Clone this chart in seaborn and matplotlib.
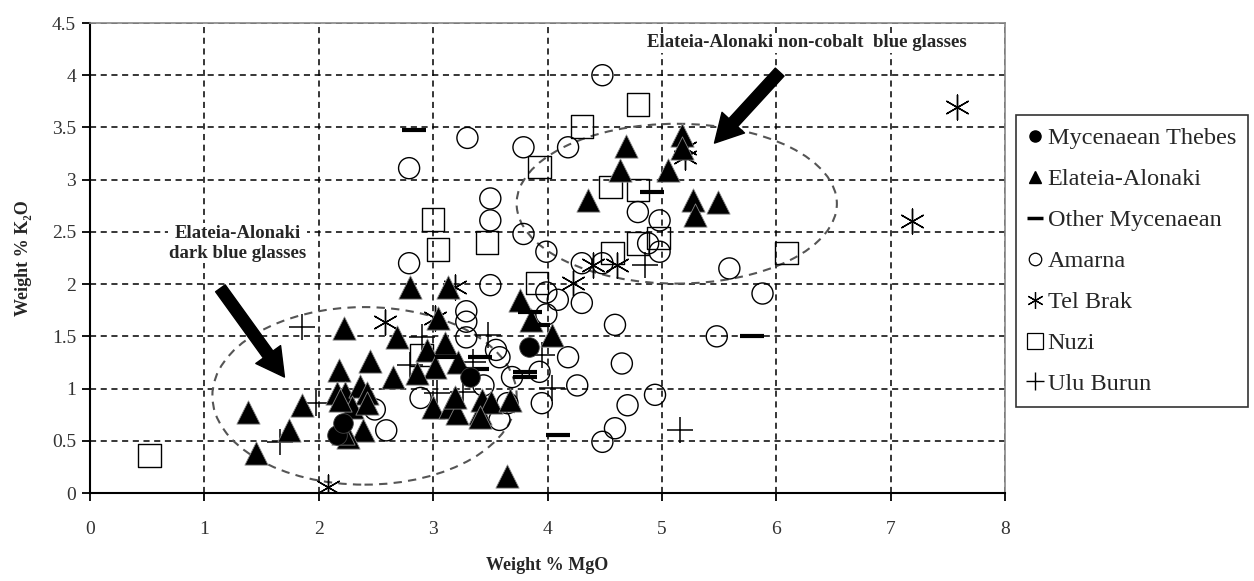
import matplotlib
matplotlib.use("Agg")
import matplotlib.pyplot as plt
import seaborn as sns
import numpy as np
from matplotlib.patches import Ellipse
from matplotlib.lines import Line2D

# ---------------- data ----------------
thebes_x = [2.16, 2.21, 3.84, 3.32]
thebes_y = [0.56, 0.67, 1.40, 1.11]

elateia_x = [2.80, 3.13, 2.22, 3.04, 2.68, 2.45, 2.18, 2.65, 3.10, 2.95, 3.02, 2.86, 3.22,
             1.38, 1.85, 1.74, 1.45, 2.16, 2.23, 2.36, 2.42, 2.29, 2.42, 2.19, 2.39, 2.26,
             2.21, 3.00, 3.15, 3.21, 3.41, 3.43, 3.19, 3.51, 3.41, 3.67, 3.76, 3.86, 4.04,
             3.65, 5.18, 5.18, 4.69, 4.63, 5.05, 4.35, 5.27, 5.49, 5.29]
elateia_y = [1.97, 1.97, 1.58, 1.68, 1.49, 1.26, 1.18, 1.11, 1.44, 1.37, 1.21, 1.15, 1.25,
             0.78, 0.84, 0.60, 0.38, 0.96, 0.96, 1.02, 0.96, 0.82, 0.86, 0.89, 0.60, 0.54,
             0.57, 0.82, 0.82, 0.77, 0.77, 0.89, 0.92, 0.87, 0.73, 0.89, 1.85, 1.66, 1.51,
             0.16, 3.43, 3.30, 3.32, 3.09, 3.09, 2.81, 2.81, 2.79, 2.66]

othermyc_x = [2.83, 4.91, 3.85, 3.92, 3.80, 3.80, 3.41, 3.38, 3.12, 4.09, 5.79]
othermyc_y = [3.48, 2.88, 1.73, 1.61, 1.16, 1.11, 1.30, 1.19, 1.30, 0.56, 1.50]

amarna_x = [4.48, 3.30, 2.79, 3.79, 4.18, 3.50, 3.50, 3.79, 4.79, 4.98, 4.88, 4.98, 2.79,
            3.99, 4.30, 4.48, 3.50, 3.99, 4.09, 4.30, 3.99, 3.29, 3.29, 3.29, 4.59, 3.58,
            3.55, 4.18, 4.65, 3.69, 3.93, 3.44, 4.26, 2.89, 3.95, 4.70, 4.94, 3.58, 2.59,
            4.59, 4.48, 3.65, 2.49, 5.59, 5.88, 5.48]
amarna_y = [4.00, 3.40, 3.11, 3.31, 3.31, 2.82, 2.61, 2.48, 2.69, 2.61, 2.39, 2.31, 2.20,
            2.31, 2.20, 2.20, 1.99, 1.92, 1.85, 1.82, 1.71, 1.74, 1.64, 1.49, 1.61, 1.30,
            1.37, 1.30, 1.24, 1.11, 1.16, 1.03, 1.03, 0.91, 0.86, 0.84, 0.94, 0.70, 0.60,
            0.62, 0.49, 0.86, 0.80, 2.15, 1.91, 1.50]

telbrak_x = [7.58, 7.19, 5.20, 5.20, 4.40, 4.61, 4.22, 3.19, 3.02, 2.58, 2.08]
telbrak_y = [3.70, 2.60, 3.22, 3.30, 2.18, 2.18, 2.01, 1.97, 1.68, 1.64, 0.06]

nuzi_x = [0.52, 4.79, 4.30, 3.93, 4.55, 4.79, 3.00, 3.04, 3.47, 4.79, 4.97, 4.57, 6.09, 3.91, 2.90]
nuzi_y = [0.36, 3.72, 3.51, 3.12, 2.93, 2.90, 2.62, 2.33, 2.40, 2.39, 2.44, 2.30, 2.30, 2.01, 1.32]

ulu_x = [1.85, 1.98, 1.66, 2.90, 2.80, 3.03, 3.26, 3.35, 3.48, 3.95, 4.04, 4.85, 5.16]
ulu_y = [1.59, 0.86, 0.49, 1.49, 1.23, 0.96, 0.97, 1.25, 1.51, 1.32, 1.01, 2.18, 0.60]

series_names = ["Mycenaean Thebes", "Elateia-Alonaki", "Other Mycenaean", "Amarna",
                "Tel Brak", "Nuzi", "Ulu Burun"]

x_ticks = [0, 1, 2, 3, 4, 5, 6, 7, 8]
y_ticks = [0, 0.5, 1, 1.5, 2, 2.5, 3, 3.5, 4, 4.5]

# ---------------- style ----------------
sns.set_theme(style="white")
plt.rcParams["font.family"] = ["Liberation Serif", "DejaVu Serif"]

fig = plt.figure(figsize=(12.54, 5.81), dpi=100)
ax = fig.add_axes([90 / 1254, 1 - 493 / 581, (1005 - 90) / 1254, (493 - 23) / 581])

# ellipses & arrows (behind points)
ax.add_patch(Ellipse((2.40, 0.93), 2.66, 1.70, fill=False, ls=(0, (4, 3)),
                     ec="#555555", lw=1.5, zorder=1))
ax.add_patch(Ellipse((5.13, 2.77), 2.80, 1.53, fill=False, ls=(0, (4, 3)),
                     ec="#555555", lw=1.5, zorder=1))

arrow_kw = dict(width=8.5, headwidth=22, headlength=20, color="black", shrink=0)
ax.annotate("", xy=(1.70, 1.11), xytext=(1.14, 1.96), arrowprops=arrow_kw, zorder=2)
ax.annotate("", xy=(5.46, 3.35), xytext=(6.03, 4.03), arrowprops=arrow_kw, zorder=2)

# points
sns.scatterplot(x=amarna_x, y=amarna_y, marker="o", s=230, facecolor="none",
                edgecolor="black", linewidth=1.0, ax=ax, zorder=3)
sns.scatterplot(x=nuzi_x, y=nuzi_y, marker="s", s=260, facecolor="none",
                edgecolor="black", linewidth=1.0, ax=ax, zorder=3)
sns.scatterplot(x=telbrak_x, y=telbrak_y, marker=(6, 2, 0), s=320, color="black",
                linewidth=1.0, ax=ax, zorder=3)
sns.scatterplot(x=ulu_x, y=ulu_y, marker="+", s=340, color="black",
                linewidth=1.1, ax=ax, zorder=3)
sns.scatterplot(x=elateia_x, y=elateia_y, marker="^", s=280, color="black",
                edgecolor="#888888", linewidth=0.6, ax=ax, zorder=4)
sns.scatterplot(x=othermyc_x, y=othermyc_y, marker="_", s=300, color="black",
                linewidth=3.0, ax=ax, zorder=4)
sns.scatterplot(x=thebes_x, y=thebes_y, marker="o", s=200, color="black",
                edgecolor="#444444", linewidth=0.6, ax=ax, zorder=4)

# axes
ax.set_xlim(0, 8)
ax.set_ylim(0, 4.5)
ax.set_xticks(x_ticks)
ax.set_yticks(y_ticks)
ax.set_xticklabels([str(t) for t in x_ticks])
ax.set_yticklabels(["0", "0.5", "1", "1.5", "2", "2.5", "3", "3.5", "4", "4.5"])
ax.grid(True, color="black", ls=(0, (4, 3)), lw=1.1)
ax.set_axisbelow(True)
for side in ["left", "bottom"]:
    ax.spines[side].set_color("black")
    ax.spines[side].set_linewidth(1.5)
for side in ["top", "right"]:
    ax.spines[side].set_color("#888888")
    ax.spines[side].set_linewidth(1.2)
ax.tick_params(axis="both", which="major", direction="out", length=6, width=1.3,
               color="black", labelsize=14, labelcolor="#333333", bottom=True, left=True)
ax.tick_params(axis="x", pad=14)
ax.tick_params(axis="y", pad=4)

ax.set_xlabel("Weight % MgO", fontsize=13, fontweight="bold", labelpad=14)
ax.set_ylabel("Weight % K\u2082O", fontsize=13, fontweight="bold", labelpad=14)

# annotations
ax.text(1.29, 2.39, "Elateia-Alonaki\ndark blue glasses", ha="center", va="center",
        fontsize=13.5, fontweight="bold", linespacing=1.25, zorder=5,
        bbox=dict(fc="white", ec="none", pad=1))
ax.text(6.27, 4.31, "Elateia-Alonaki non-cobalt  blue glasses", ha="center", va="center",
        fontsize=13.5, fontweight="bold", zorder=5, bbox=dict(fc="white", ec="none", pad=1))

# legend
leg_handles = [
    Line2D([], [], ls="none", marker="o", ms=8, mfc="black", mec="black"),
    Line2D([], [], ls="none", marker="^", ms=9, mfc="black", mec="black"),
    Line2D([], [], ls="none", marker="_", ms=11, mew=2.5, color="black"),
    Line2D([], [], ls="none", marker="o", ms=9, mfc="none", mec="black", mew=0.9),
    Line2D([], [], ls="none", marker=(6, 2, 0), ms=12, color="black", mew=0.9),
    Line2D([], [], ls="none", marker="s", ms=11, mfc="none", mec="black", mew=0.9),
    Line2D([], [], ls="none", marker="+", ms=13, color="black", mew=1.0),
]
leg = fig.legend(leg_handles, series_names, loc="upper left",
                 bbox_to_anchor=(1016 / 1254, 1 - 115 / 581), bbox_transform=fig.transFigure,
                 borderaxespad=0, frameon=True, fancybox=False, edgecolor="black",
                 fontsize=17.5, handlelength=0.6, handletextpad=0.2, labelspacing=0.78,
                 borderpad=0.5)
leg.get_frame().set_linewidth(1.2)

fig.savefig("out.png", dpi=100)
